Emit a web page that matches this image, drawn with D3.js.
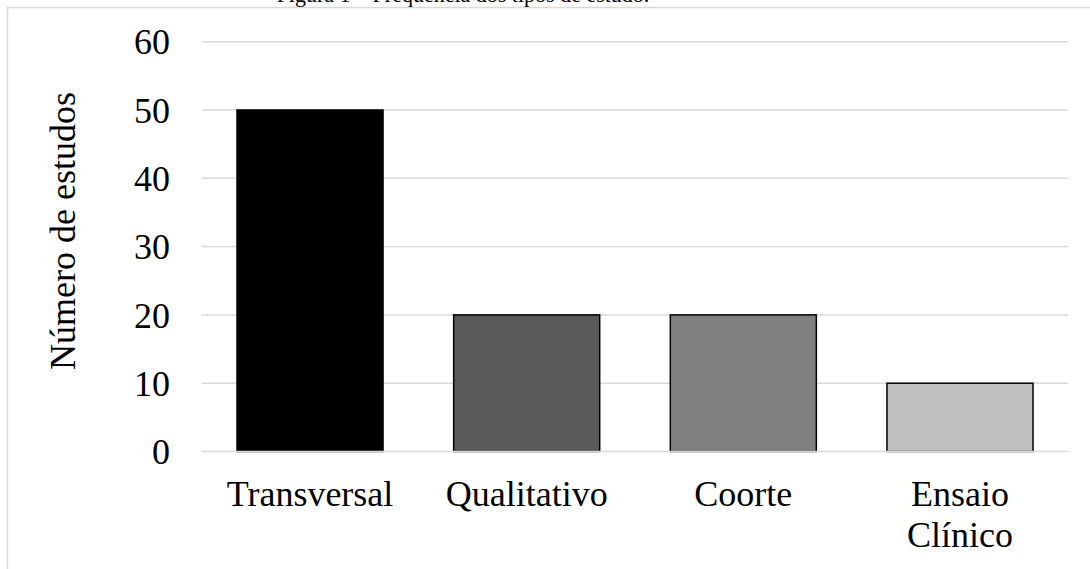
<!DOCTYPE html>
<html lang="pt">
<head>
<meta charset="utf-8">
<script src="https://cdn.jsdelivr.net/npm/d3@7"></script>
<style>
  html, body { margin: 0; padding: 0; background: #ffffff; }
  svg { display: block; font-family: "Liberation Serif", "Times New Roman", serif; }
</style>
</head>
<body>
<svg id="chart" width="1090" height="569"></svg>
<script>
// Tipos de estudo e número de estudos de cada tipo
const categories = ["Transversal", "Qualitativo", "Coorte", "Ensaio Clínico"];
const values = [50, 20, 20, 10];
const fills = ["#000000", "#595959", "#808080", "#bfbfbf"];
const yTicks = [0, 10, 20, 30, 40, 50, 60];
const categoryLines = [["Transversal"], ["Qualitativo"], ["Coorte"], ["Ensaio", "Clínico"]];

const svg = d3.select("#chart");
const W = 1090, H = 569;

// Moldura da área do gráfico
svg.append("path")
  .attr("d", `M7.5,${H} V7.5 H${W}`)
  .attr("fill", "none")
  .attr("stroke", "#d9d9d9")
  .attr("stroke-width", 1.5);

// Legenda da figura (topo)
svg.append("text")
  .attr("x", 463)
  .attr("y", 2)
  .attr("text-anchor", "middle")
  .attr("font-size", 22)
  .attr("fill", "#000")
  .text("Figura 1 – Frequência dos tipos de estudo.");

const x = d3.scaleBand()
  .domain(categories)
  .range([201.7, 1068.3])
  .paddingInner(0.326)
  .paddingOuter(0.163);

const y = d3.scaleLinear()
  .domain([0, 60])
  .range([451.5, 41.7]);

// Linhas de grade
svg.append("g")
  .selectAll("line")
  .data(yTicks.filter(t => t !== 0))
  .join("line")
  .attr("x1", x.range()[0])
  .attr("x2", x.range()[1])
  .attr("y1", d => y(d))
  .attr("y2", d => y(d))
  .attr("stroke", "#d9d9d9")
  .attr("stroke-width", 1.5);

// Barras
svg.append("g")
  .selectAll("rect")
  .data(categories)
  .join("rect")
  .attr("x", d => x(d))
  .attr("y", (d, i) => y(values[i]))
  .attr("width", x.bandwidth())
  .attr("height", (d, i) => y(0) - y(values[i]))
  .attr("fill", (d, i) => fills[i])
  .attr("stroke", "#000")
  .attr("stroke-width", 1.5);

// Linha do eixo horizontal
svg.append("line")
  .attr("x1", x.range()[0])
  .attr("x2", x.range()[1])
  .attr("y1", y(0))
  .attr("y2", y(0))
  .attr("stroke", "#d9d9d9")
  .attr("stroke-width", 1.5);

// Rótulos do eixo Y
const yAxis = d3.axisLeft(y).tickValues(yTicks).tickSize(0).tickPadding(0);
const gy = svg.append("g")
  .attr("transform", "translate(170,0)")
  .call(yAxis);
gy.select(".domain").remove();
gy.selectAll("text")
  .attr("font-family", "\"Liberation Serif\", \"Times New Roman\", serif")
  .attr("font-size", 36)
  .attr("fill", "#000")
  .attr("dy", "0.34em");

// Rótulos das categorias
const gx = svg.append("g");
categories.forEach((c, i) => {
  const t = gx.append("text")
    .attr("x", x(c) + x.bandwidth() / 2)
    .attr("y", 506)
    .attr("text-anchor", "middle")
    .attr("font-size", 36)
    .attr("fill", "#000");
  categoryLines[i].forEach((line, j) => {
    t.append("tspan")
      .attr("x", x(c) + x.bandwidth() / 2)
      .attr("dy", j === 0 ? 0 : 41)
      .text(line);
  });
});

// Título do eixo Y
svg.append("text")
  .attr("transform", "translate(75,231) rotate(-90)")
  .attr("text-anchor", "middle")
  .attr("font-size", 36)
  .attr("fill", "#000")
  .text("Número de estudos");
</script>
</body>
</html>
